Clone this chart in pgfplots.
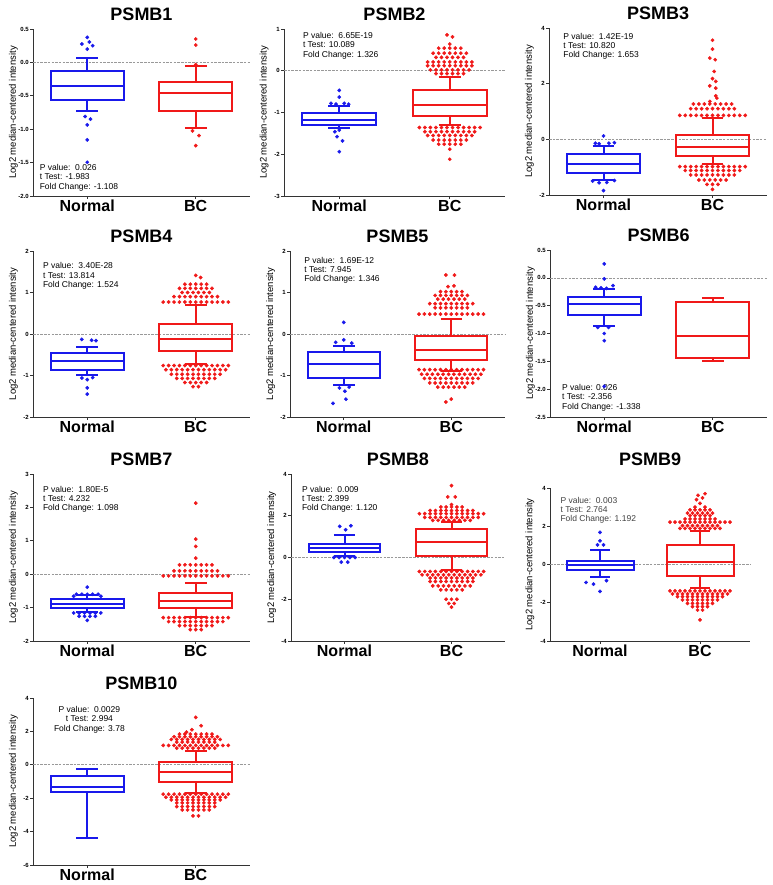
\documentclass[border=0pt]{standalone}
\usepackage{fontspec}
\setmainfont{Liberation Sans}
\usepackage{pgfplots}
\pgfplotsset{compat=1.18}
\usepgfplotslibrary{statistics}
\definecolor{bblue}{RGB}{25,25,235}
\definecolor{rred}{RGB}{240,25,25}
\newcommand{\stat}{\fontsize{8.5}{9.2}\selectfont}
\pgfplotsset{
 psmb/.style={
  scale only axis, anchor=south west, clip=false,
  boxplot/draw direction=y,
  xmin=0.5, xmax=2.5, xtick={1,2}, xticklabels={Normal,BC},
  axis lines=left, axis line style={-, black!80, line width=0.8pt},
  tick align=outside, major tick length=3pt,
  x tick style={black!80, line width=0.8pt},
  y tick style={black!80, line width=0.6pt},
  x tick label style={font=\fontsize{16}{16}\selectfont\bfseries, inner sep=1pt},
  y tick label style={font=\fontsize{6}{6}\selectfont\bfseries, inner sep=1pt},
  /pgf/number format/assume math mode=true,
  ylabel={Log2 median-centered intensity},
  ylabel style={font=\fontsize{9.5}{9.5}\selectfont, at={(axis description cs:-0.09,0.5)}, anchor=center},
  title style={font=\fontsize{18}{18}\selectfont\bfseries, at={(axis description cs:0.5,1)}, anchor=center, yshift=9pt},
 },
 zero/.style={black!40, dash pattern=on 2.5pt off 1.2pt, line width=0.6pt},
 outn/.style={only marks, mark=*, mark size=1.7pt, bblue},
 outb/.style={only marks, mark=*, mark size=1.7pt, rred},
}
\begin{document}
\begin{tikzpicture}
\path[use as bounding box] (0,0) rectangle (772pt,885pt);

% ---------------- PSMB1
\begin{axis}[psmb, at={(33pt,689pt)}, width=217pt, height=167pt, title={PSMB1},
  ymin=-2, ymax=0.5, ytick={-2,-1.5,-1,-0.5,0,0.5}, yticklabels={-2.0,-1.5,-1.0,-0.5,0.0,0.5}]
\addplot[zero] coordinates {(0.5,0)(2.5,0)};
\addplot[bblue, line width=2pt, boxplot prepared={draw position=1, box extend=0.67, whisker extend=0.2, median=-0.35, upper quartile=-0.125, lower quartile=-0.56, upper whisker=0.065, lower whisker=-0.73}] coordinates {};
\addplot[rred, line width=2pt, boxplot prepared={draw position=2, box extend=0.67, whisker extend=0.2, median=-0.46, upper quartile=-0.295, lower quartile=-0.725, upper whisker=-0.06, lower whisker=-0.975}] coordinates {};
\addplot[outn] coordinates {(1,.375)(.95,.275)(1.02,.305)(1.05,.25)(1,.2)(.98,-.81)(1.03,-.85)(1,-.935)(1,-1.16)(1,-1.495)};
\addplot[outb] coordinates {(2,.35)(2,.26)(2,-.035)(1.97,-1.025)(2.03,-1.095)(2,-1.245)};
\node[anchor=south west, align=left, font=\stat] at (rel axis cs:0.015,0.01) {P value:\ \ 0.026\\t Test: -1.983\\Fold Change: -1.108};
\end{axis}

% ---------------- PSMB2
\begin{axis}[psmb, at={(284pt,689pt)}, width=221pt, height=167pt, title={PSMB2},
  ymin=-3, ymax=1, ytick={-3,-2,-1,0,1}]
\addplot[zero] coordinates {(0.5,0)(2.5,0)};
\addplot[bblue, line width=2pt, boxplot prepared={draw position=1, box extend=0.67, whisker extend=0.2, median=-1.19, upper quartile=-1.02, lower quartile=-1.31, upper whisker=-0.84, lower whisker=-1.38}] coordinates {};
\addplot[rred, line width=2pt, boxplot prepared={draw position=2, box extend=0.67, whisker extend=0.2, median=-0.82, upper quartile=-0.47, lower quartile=-1.08, upper whisker=-0.15, lower whisker=-1.3}] coordinates {};
\addplot[outn] coordinates {(1,-.47)(1,-.63)(.925,-.78)(.97,-.8)(1.045,-.78)(1.085,-.8)(.96,-1.46)(1,-1.42)(.98,-1.58)(1.03,-1.68)(1,-1.94)};
\addplot[outb] coordinates {(1.975,.86)(2.025,.81)(2,.64)
(1.9,.54)(1.95,.54)(2,.54)(2.05,.54)(2.1,.54)
(1.85,.42)(1.9,.42)(1.95,.42)(2,.42)(2.05,.42)(2.1,.42)(2.15,.42)
(1.875,.32)(1.925,.32)(1.975,.32)(2.025,.32)(2.075,.32)(2.125,.32)
(1.8,.21)(1.85,.21)(1.9,.21)(1.95,.21)(2,.21)(2.05,.21)(2.1,.21)(2.15,.21)(2.2,.21)
(1.8,.12)(1.85,.12)(1.9,.12)(1.95,.12)(2,.12)(2.05,.12)(2.1,.12)(2.15,.12)(2.2,.12)
(1.825,.02)(1.875,.02)(1.925,.02)(1.975,.02)(2.025,.02)(2.075,.02)(2.125,.02)(2.175,.02)
(1.875,-.07)(1.925,-.07)(1.975,-.07)(2.025,-.07)(2.075,-.07)(2.125,-.07)
(1.725,-1.36)(1.775,-1.36)(1.825,-1.36)(1.875,-1.36)(1.925,-1.36)(1.975,-1.36)(2.025,-1.36)(2.075,-1.36)(2.125,-1.36)(2.175,-1.36)(2.225,-1.36)(2.275,-1.36)
(1.775,-1.46)(1.825,-1.46)(1.875,-1.46)(1.925,-1.46)(1.975,-1.46)(2.025,-1.46)(2.075,-1.46)(2.125,-1.46)(2.175,-1.46)(2.225,-1.46)
(1.8,-1.55)(1.85,-1.55)(1.9,-1.55)(1.95,-1.55)(2,-1.55)(2.05,-1.55)(2.1,-1.55)(2.15,-1.55)(2.2,-1.55)
(1.85,-1.66)(1.9,-1.66)(1.95,-1.66)(2,-1.66)(2.05,-1.66)(2.1,-1.66)(2.15,-1.66)
(1.9,-1.76)(1.95,-1.76)(2,-1.76)(2.05,-1.76)(2.1,-1.76)
(2,-1.88)(2,-2.12)};
\node[anchor=north west, align=left, font=\stat] at (rel axis cs:0.07,1.0) {P value:\ \ 6.65E-19\\t Test: 10.089\\Fold Change: 1.326};
\end{axis}

% ---------------- PSMB3
\begin{axis}[psmb, at={(549pt,690pt)}, width=218pt, height=167pt, title={PSMB3},
  ymin=-2, ymax=4, ytick={-2,0,2,4}]
\addplot[zero] coordinates {(0.5,0)(2.5,0)};
\addplot[bblue, line width=2pt, boxplot prepared={draw position=1, box extend=0.67, whisker extend=0.2, median=-0.885, upper quartile=-0.54, lower quartile=-1.22, upper whisker=-0.225, lower whisker=-1.46}] coordinates {};
\addplot[rred, line width=2pt, boxplot prepared={draw position=2, box extend=0.67, whisker extend=0.2, median=-0.26, upper quartile=0.16, lower quartile=-0.585, upper whisker=0.76, lower whisker=-0.9}] coordinates {};
\addplot[outn] coordinates {(1,.12)(.925,-.14)(.96,-.16)(1.05,-.14)(1.1,-.12)(.9,-1.5)(.96,-1.56)(1.03,-1.55)(1.1,-1.48)(1,-1.84)};
\addplot[outb] coordinates {(2,3.56)(2,3.24)(1.975,2.92)(2.025,2.86)(2.015,2.44)(2,2.18)(2.03,2.08)(1.975,1.92)(2.03,1.84)(2.03,1.56)(2.04,1.48)(1.975,1.36)
(1.825,1.27)(1.875,1.27)(1.925,1.27)(1.975,1.27)(2.025,1.27)(2.075,1.27)(2.125,1.27)(2.175,1.27)
(1.8,1.1)(1.85,1.1)(1.9,1.1)(1.95,1.1)(2,1.1)(2.05,1.1)(2.1,1.1)(2.15,1.1)(2.2,1.1)
(1.7,.86)(1.75,.86)(1.8,.86)(1.85,.86)(1.9,.86)(1.95,.86)(2,.86)(2.05,.86)(2.1,.86)(2.15,.86)(2.2,.86)(2.25,.86)(2.3,.86)
(1.7,-.98)(1.75,-.98)(1.8,-.98)(1.85,-.98)(1.9,-.98)(1.95,-.98)(2,-.98)(2.05,-.98)(2.1,-.98)(2.15,-.98)(2.2,-.98)(2.25,-.98)(2.3,-.98)
(1.75,-1.12)(1.8,-1.12)(1.85,-1.12)(1.9,-1.12)(1.95,-1.12)(2,-1.12)(2.05,-1.12)(2.1,-1.12)(2.15,-1.12)(2.2,-1.12)(2.25,-1.12)
(1.8,-1.28)(1.85,-1.28)(1.9,-1.28)(1.95,-1.28)(2,-1.28)(2.05,-1.28)(2.1,-1.28)(2.15,-1.28)(2.2,-1.28)
(1.875,-1.46)(1.925,-1.46)(1.975,-1.46)(2.025,-1.46)(2.075,-1.46)(2.125,-1.46)
(1.95,-1.62)(2,-1.62)(2.05,-1.62)(2,-1.8)};
\node[anchor=north west, align=left, font=\stat] at (rel axis cs:0.05,0.99) {P value:\ \ 1.42E-19\\t Test: 10.820\\Fold Change: 1.653};
\end{axis}

% ---------------- PSMB4
\begin{axis}[psmb, at={(33pt,468pt)}, width=217pt, height=166pt, title={PSMB4},
  ymin=-2, ymax=2, ytick={-2,-1,0,1,2}]
\addplot[zero] coordinates {(0.5,0)(2.5,0)};
\addplot[bblue, line width=2pt, boxplot prepared={draw position=1, box extend=0.67, whisker extend=0.2, median=-0.66, upper quartile=-0.46, lower quartile=-0.86, upper whisker=-0.32, lower whisker=-1.0}] coordinates {};
\addplot[rred, line width=2pt, boxplot prepared={draw position=2, box extend=0.67, whisker extend=0.2, median=-0.12, upper quartile=0.24, lower quartile=-0.40, upper whisker=0.69, lower whisker=-0.73}] coordinates {};
\addplot[outn] coordinates {(.95,-.13)(1.04,-.15)(1.08,-.16)(.95,-1.06)(1,-1.1)(1.05,-1.05)(1,-1.3)(1,-1.45)};
\addplot[outb] coordinates {(2,1.41)(2.045,1.36)
(1.9,1.2)(1.95,1.2)(2,1.2)(2.05,1.2)(2.1,1.2)
(1.85,1.1)(1.9,1.1)(1.95,1.1)(2,1.1)(2.05,1.1)(2.1,1.1)(2.15,1.1)
(1.875,1)(1.925,1)(1.975,1)(2.025,1)(2.075,1)(2.125,1)
(1.8,.9)(1.85,.9)(1.9,.9)(1.95,.9)(2,.9)(2.05,.9)(2.1,.9)(2.15,.9)(2.2,.9)
(1.7,.77)(1.75,.77)(1.8,.77)(1.85,.77)(1.9,.77)(1.95,.77)(2,.77)(2.05,.77)(2.1,.77)(2.15,.77)(2.2,.77)(2.25,.77)(2.3,.77)
(1.7,-.76)(1.75,-.76)(1.8,-.76)(1.85,-.76)(1.9,-.76)(1.95,-.76)(2,-.76)(2.05,-.76)(2.1,-.76)(2.15,-.76)(2.2,-.76)(2.25,-.76)(2.3,-.76)
(1.725,-.86)(1.775,-.86)(1.825,-.86)(1.875,-.86)(1.925,-.86)(1.975,-.86)(2.025,-.86)(2.075,-.86)(2.125,-.86)(2.175,-.86)(2.225,-.86)(2.275,-.86)
(1.775,-.97)(1.825,-.97)(1.875,-.97)(1.925,-.97)(1.975,-.97)(2.025,-.97)(2.075,-.97)(2.125,-.97)(2.175,-.97)(2.225,-.97)
(1.825,-1.07)(1.875,-1.07)(1.925,-1.07)(1.975,-1.07)(2.025,-1.07)(2.075,-1.07)(2.125,-1.07)(2.175,-1.07)
(1.9,-1.17)(1.95,-1.17)(2,-1.17)(2.05,-1.17)(2.1,-1.17)
(1.975,-1.27)(2.025,-1.27)};
\node[anchor=north west, align=left, font=\stat] at (rel axis cs:0.03,0.95) {P value:\ \ 3.40E-28\\t Test: 13.814\\Fold Change: 1.524};
\end{axis}

% ---------------- PSMB5
\begin{axis}[psmb, at={(290pt,468pt)}, width=215pt, height=166pt, title={PSMB5},
  ymin=-2, ymax=2, ytick={-2,-1,0,1,2}]
\addplot[zero] coordinates {(0.5,0)(2.5,0)};
\addplot[bblue, line width=2pt, boxplot prepared={draw position=1, box extend=0.67, whisker extend=0.2, median=-0.72, upper quartile=-0.44, lower quartile=-1.05, upper whisker=-0.28, lower whisker=-1.24}] coordinates {};
\addplot[rred, line width=2pt, boxplot prepared={draw position=2, box extend=0.67, whisker extend=0.2, median=-0.38, upper quartile=-0.04, lower quartile=-0.62, upper whisker=0.36, lower whisker=-0.9}] coordinates {};
\addplot[outn] coordinates {(1,.28)(1,-.14)(.925,-.2)(1.075,-.22)(.96,-1.3)(1.05,-1.28)(1.01,-1.38)(1.02,-1.57)(.9,-1.67)};
\addplot[outb] coordinates {(1.95,1.42)(2.03,1.42)(1.97,1.14)(2.025,1.16)
(1.9,1.02)(1.95,1.02)(2,1.02)(2.05,1.02)(2.1,1.02)
(1.85,.93)(1.9,.93)(1.95,.93)(2,.93)(2.05,.93)(2.1,.93)(2.15,.93)
(1.875,.84)(1.925,.84)(1.975,.84)(2.025,.84)(2.075,.84)(2.125,.84)
(1.8,.73)(1.85,.73)(1.9,.73)(1.95,.73)(2,.73)(2.05,.73)(2.1,.73)(2.15,.73)(2.2,.73)
(1.85,.63)(1.9,.63)(1.95,.63)(2,.63)(2.05,.63)(2.1,.63)(2.15,.63)
(1.7,.48)(1.75,.48)(1.8,.48)(1.85,.48)(1.9,.48)(1.95,.48)(2,.48)(2.05,.48)(2.1,.48)(2.15,.48)(2.2,.48)(2.25,.48)(2.3,.48)
(1.7,-.86)(1.75,-.86)(1.8,-.86)(1.85,-.86)(1.9,-.86)(1.95,-.86)(2,-.86)(2.05,-.86)(2.1,-.86)(2.15,-.86)(2.2,-.86)(2.25,-.86)(2.3,-.86)
(1.725,-.97)(1.775,-.97)(1.825,-.97)(1.875,-.97)(1.925,-.97)(1.975,-.97)(2.025,-.97)(2.075,-.97)(2.125,-.97)(2.175,-.97)(2.225,-.97)(2.275,-.97)
(1.75,-1.07)(1.8,-1.07)(1.85,-1.07)(1.9,-1.07)(1.95,-1.07)(2,-1.07)(2.05,-1.07)(2.1,-1.07)(2.15,-1.07)(2.2,-1.07)(2.25,-1.07)
(1.8,-1.18)(1.85,-1.18)(1.9,-1.18)(1.95,-1.18)(2,-1.18)(2.05,-1.18)(2.1,-1.18)(2.15,-1.18)(2.2,-1.18)
(1.875,-1.28)(1.925,-1.28)(1.975,-1.28)(2.025,-1.28)(2.075,-1.28)(2.125,-1.28)
(2,-1.57)(1.95,-1.64)};
\node[anchor=north west, align=left, font=\stat] at (rel axis cs:0.05,0.985) {P value:\ \ 1.69E-12\\t Test: 7.945\\Fold Change: 1.346};
\end{axis}

% ---------------- PSMB6
\begin{axis}[psmb, at={(550pt,468pt)}, width=217pt, height=167pt, title={PSMB6},
  ymin=-2.5, ymax=0.5, ytick={-2.5,-2,-1.5,-1,-0.5,0,0.5}, yticklabels={-2.5,-2.0,-1.5,-1.0,-0.5,0.0,0.5}]
\addplot[zero] coordinates {(0.5,0)(2.5,0)};
\addplot[bblue, line width=2pt, boxplot prepared={draw position=1, box extend=0.67, whisker extend=0.2, median=-0.47, upper quartile=-0.35, lower quartile=-0.665, upper whisker=-0.2, lower whisker=-0.86}] coordinates {};
\addplot[rred, line width=2pt, boxplot prepared={draw position=2, box extend=0.67, whisker extend=0.2, median=-1.04, upper quartile=-0.43, lower quartile=-1.44, upper whisker=-0.37, lower whisker=-1.5}] coordinates {};
\addplot[outn] coordinates {(1,.25)(1,-.02)(.92,-.17)(.97,-.18)(1.02,-.19)(1.08,-.14)(.94,-.89)(1.04,-.89)(1,-1.0)(1,-1.13)(1,-1.95)};
\node[anchor=south west, align=left, font=\stat] at (rel axis cs:0.04,0.015) {P value: 0.026\\t Test: -2.356\\Fold Change: -1.338};
\end{axis}

% ---------------- PSMB7
\begin{axis}[psmb, at={(33pt,244pt)}, width=217pt, height=167pt, title={PSMB7},
  ymin=-2, ymax=3, ytick={-2,-1,0,1,2,3}]
\addplot[zero] coordinates {(0.5,0)(2.5,0)};
\addplot[bblue, line width=2pt, boxplot prepared={draw position=1, box extend=0.67, whisker extend=0.2, median=-0.89, upper quartile=-0.75, lower quartile=-1.02, upper whisker=-0.62, lower whisker=-1.12}] coordinates {};
\addplot[rred, line width=2pt, boxplot prepared={draw position=2, box extend=0.67, whisker extend=0.2, median=-0.79, upper quartile=-0.55, lower quartile=-1.02, upper whisker=-0.25, lower whisker=-1.27}] coordinates {};
\addplot[outn] coordinates {(1,-.39)(.9,-.6)(.95,-.6)(1,-.6)(1.05,-.6)(1.1,-.6)(.875,-.66)(1.125,-.66)
(.875,-1.16)(.925,-1.16)(.975,-1.16)(1.025,-1.16)(1.075,-1.16)(1.125,-1.16)
(.925,-1.26)(.975,-1.26)(1.025,-1.26)(1.075,-1.26)(1,-1.38)};
\addplot[outb] coordinates {(2,2.13)(2,1.05)(2,.83)(2,.48)
(1.85,.28)(1.9,.28)(1.95,.28)(2,.28)(2.05,.28)(2.1,.28)(2.15,.28)
(1.8,.1)(1.85,.1)(1.9,.1)(1.95,.1)(2,.1)(2.05,.1)(2.1,.1)(2.15,.1)(2.2,.1)
(1.7,-.05)(1.75,-.05)(1.8,-.05)(1.85,-.05)(1.9,-.05)(1.95,-.05)(2,-.05)(2.05,-.05)(2.1,-.05)(2.15,-.05)(2.2,-.05)(2.25,-.05)(2.3,-.05)
(1.7,-1.3)(1.75,-1.3)(1.8,-1.3)(1.85,-1.3)(1.9,-1.3)(1.95,-1.3)(2,-1.3)(2.05,-1.3)(2.1,-1.3)(2.15,-1.3)(2.2,-1.3)(2.25,-1.3)(2.3,-1.3)
(1.75,-1.42)(1.8,-1.42)(1.85,-1.42)(1.9,-1.42)(1.95,-1.42)(2,-1.42)(2.05,-1.42)(2.1,-1.42)(2.15,-1.42)(2.2,-1.42)(2.25,-1.42)
(1.85,-1.54)(1.9,-1.54)(1.95,-1.54)(2,-1.54)(2.05,-1.54)(2.1,-1.54)(2.15,-1.54)
(1.95,-1.66)(2,-1.66)(2.05,-1.66)};
\node[anchor=north west, align=left, font=\stat] at (rel axis cs:0.03,0.95) {P value:\ \ 1.80E-5\\t Test: 4.232\\Fold Change: 1.098};
\end{axis}

% ---------------- PSMB8
\begin{axis}[psmb, at={(291pt,244pt)}, width=214pt, height=167pt, title={PSMB8},
  ymin=-4, ymax=4, ytick={-4,-2,0,2,4}]
\addplot[zero] coordinates {(0.5,0)(2.5,0)};
\addplot[bblue, line width=2pt, boxplot prepared={draw position=1, box extend=0.67, whisker extend=0.2, median=0.45, upper quartile=0.64, lower quartile=0.24, upper whisker=1.09, lower whisker=0.08}] coordinates {};
\addplot[rred, line width=2pt, boxplot prepared={draw position=2, box extend=0.67, whisker extend=0.2, median=0.74, upper quartile=1.36, lower quartile=0.08, upper whisker=1.68, lower whisker=-0.62}] coordinates {};
\addplot[outn] coordinates {(.955,1.49)(1.06,1.52)(1.01,1.33)(.9,0)(.95,0)(1,0)(1.05,0)(1.1,0)(.97,-.22)(1.03,-.22)};
\addplot[outb] coordinates {(2,3.44)(1.965,2.9)(2.035,2.9)(2,2.53)
(1.9,2.42)(1.95,2.42)(2,2.42)(2.05,2.42)(2.1,2.42)
(1.8,2.25)(1.85,2.25)(1.9,2.25)(1.95,2.25)(2,2.25)(2.05,2.25)(2.1,2.25)(2.15,2.25)(2.2,2.25)
(1.7,2.1)(1.75,2.1)(1.8,2.1)(1.85,2.1)(1.9,2.1)(1.95,2.1)(2,2.1)(2.05,2.1)(2.1,2.1)(2.15,2.1)(2.2,2.1)(2.25,2.1)(2.3,2.1)
(1.75,1.92)(1.8,1.92)(1.85,1.92)(1.9,1.92)(1.95,1.92)(2,1.92)(2.05,1.92)(2.1,1.92)(2.15,1.92)(2.2,1.92)(2.25,1.92)
(1.825,1.78)(1.875,1.78)(1.925,1.78)(1.975,1.78)(2.025,1.78)(2.075,1.78)(2.125,1.78)(2.175,1.78)
(1.7,-.67)(1.75,-.67)(1.8,-.67)(1.85,-.67)(1.9,-.67)(1.95,-.67)(2,-.67)(2.05,-.67)(2.1,-.67)(2.15,-.67)(2.2,-.67)(2.25,-.67)(2.3,-.67)
(1.725,-.83)(1.775,-.83)(1.825,-.83)(1.875,-.83)(1.925,-.83)(1.975,-.83)(2.025,-.83)(2.075,-.83)(2.125,-.83)(2.175,-.83)(2.225,-.83)(2.275,-.83)
(1.8,-.98)(1.85,-.98)(1.9,-.98)(1.95,-.98)(2,-.98)(2.05,-.98)(2.1,-.98)(2.15,-.98)(2.2,-.98)
(1.8,-1.15)(1.85,-1.15)(1.9,-1.15)(1.95,-1.15)(2,-1.15)(2.05,-1.15)(2.1,-1.15)(2.15,-1.15)(2.2,-1.15)
(1.825,-1.36)(1.875,-1.36)(1.925,-1.36)(1.975,-1.36)(2.025,-1.36)(2.075,-1.36)(2.125,-1.36)(2.175,-1.36)
(1.9,-1.55)(1.95,-1.55)(2,-1.55)(2.05,-1.55)(2.1,-1.55)
(1.95,-2.0)(2,-2.0)(2.05,-2.0)(1.975,-2.2)(2.025,-2.2)(2,-2.38)};
\node[anchor=north west, align=left, font=\stat] at (rel axis cs:0.035,0.95) {P value:\ \ 0.009\\t Test: 2.399\\Fold Change: 1.120};
\end{axis}

% ---------------- PSMB9
\begin{axis}[psmb, at={(550pt,244pt)}, width=200pt, height=153pt, title={PSMB9},
  title style={yshift=14pt}, ylabel style={at={(axis description cs:-0.1,0.5)}},
  ymin=-4, ymax=4, ytick={-4,-2,0,2,4}]
\addplot[zero] coordinates {(0.5,0)(2.5,0)};
\addplot[bblue, line width=2pt, boxplot prepared={draw position=1, box extend=0.67, whisker extend=0.2, median=-0.02, upper quartile=0.19, lower quartile=-0.28, upper whisker=0.77, lower whisker=-0.63}] coordinates {};
\addplot[rred, line width=2pt, boxplot prepared={draw position=2, box extend=0.67, whisker extend=0.2, median=0.12, upper quartile=1.0, lower quartile=-0.58, upper whisker=1.76, lower whisker=-1.24}] coordinates {};
\addplot[outn] coordinates {(1,1.68)(1,1.24)(.975,1.03)(1.035,1.03)(.86,-.94)(.935,-1.03)(1.065,-.84)(1,-1.41)};
\addplot[outb] coordinates {(2.05,3.7)(1.98,3.62)(1.965,3.39)(2.025,3.48)(2,3.2)(1.95,3.0)(2.05,3.0)
(1.9,2.86)(1.95,2.86)(2,2.86)(2.05,2.86)(2.1,2.86)
(1.875,2.69)(1.925,2.69)(1.975,2.69)(2.025,2.69)(2.075,2.69)(2.125,2.69)
(1.9,2.55)(1.95,2.55)(2,2.55)(2.05,2.55)(2.1,2.55)
(1.85,2.38)(1.9,2.38)(1.95,2.38)(2,2.38)(2.05,2.38)(2.1,2.38)(2.15,2.38)
(1.7,2.22)(1.75,2.22)(1.8,2.22)(1.85,2.22)(1.9,2.22)(1.95,2.22)(2,2.22)(2.05,2.22)(2.1,2.22)(2.15,2.22)(2.2,2.22)(2.25,2.22)(2.3,2.22)
(1.825,2.03)(1.875,2.03)(1.925,2.03)(1.975,2.03)(2.025,2.03)(2.075,2.03)(2.125,2.03)(2.175,2.03)
(1.8,1.89)(1.85,1.89)(1.9,1.89)(1.95,1.89)(2,1.89)(2.05,1.89)(2.1,1.89)(2.15,1.89)(2.2,1.89)
(1.7,-1.38)(1.75,-1.38)(1.8,-1.38)(1.85,-1.38)(1.9,-1.38)(1.95,-1.38)(2,-1.38)(2.05,-1.38)(2.1,-1.38)(2.15,-1.38)(2.2,-1.38)(2.25,-1.38)(2.3,-1.38)
(1.725,-1.54)(1.775,-1.54)(1.825,-1.54)(1.875,-1.54)(1.925,-1.54)(1.975,-1.54)(2.025,-1.54)(2.075,-1.54)(2.125,-1.54)(2.175,-1.54)(2.225,-1.54)(2.275,-1.54)
(1.775,-1.68)(1.825,-1.68)(1.875,-1.68)(1.925,-1.68)(1.975,-1.68)(2.025,-1.68)(2.075,-1.68)(2.125,-1.68)(2.175,-1.68)(2.225,-1.68)
(1.825,-1.85)(1.875,-1.85)(1.925,-1.85)(1.975,-1.85)(2.025,-1.85)(2.075,-1.85)(2.125,-1.85)(2.175,-1.85)
(1.875,-2.03)(1.925,-2.03)(1.975,-2.03)(2.025,-2.03)(2.075,-2.03)(2.125,-2.03)
(1.925,-2.2)(1.975,-2.2)(2.025,-2.2)(2.075,-2.2)
(1.975,-2.38)(2.025,-2.38)(2,-2.9)};
\node[anchor=north west, align=left, font=\stat, black!75] at (rel axis cs:0.035,0.965) {P value:\ \ 0.003\\t Test: 2.764\\Fold Change: 1.192};
\end{axis}

% ---------------- PSMB10
\begin{axis}[psmb, at={(33pt,20pt)}, width=217pt, height=167pt, title={PSMB10},
  ymin=-6, ymax=4, ytick={-6,-4,-2,0,2,4}]
\addplot[zero] coordinates {(0.5,0)(2.5,0)};
\addplot[bblue, line width=2pt, boxplot prepared={draw position=1, box extend=0.67, whisker extend=0.2, median=-1.34, upper quartile=-0.66, lower quartile=-1.64, upper whisker=-0.26, lower whisker=-4.4}] coordinates {};
\addplot[rred, line width=2pt, boxplot prepared={draw position=2, box extend=0.67, whisker extend=0.2, median=-0.44, upper quartile=0.16, lower quartile=-1.06, upper whisker=0.84, lower whisker=-1.66}] coordinates {};
\addplot[outb] coordinates {(2,2.84)(2.05,2.34)(1.965,2.1)(1.915,1.96)
(1.85,1.84)(1.9,1.84)(1.95,1.84)(2,1.84)(2.05,1.84)(2.1,1.84)(2.15,1.84)
(1.8,1.68)(1.85,1.68)(1.9,1.68)(1.95,1.68)(2,1.68)(2.05,1.68)(2.1,1.68)(2.15,1.68)(2.2,1.68)
(1.775,1.52)(1.825,1.52)(1.875,1.52)(1.925,1.52)(1.975,1.52)(2.025,1.52)(2.075,1.52)(2.125,1.52)(2.175,1.52)(2.225,1.52)
(1.825,1.36)(1.875,1.36)(1.925,1.36)(1.975,1.36)(2.025,1.36)(2.075,1.36)(2.125,1.36)(2.175,1.36)
(1.7,1.16)(1.75,1.16)(1.8,1.16)(1.85,1.16)(1.9,1.16)(1.95,1.16)(2,1.16)(2.05,1.16)(2.1,1.16)(2.15,1.16)(2.2,1.16)(2.25,1.16)(2.3,1.16)
(1.825,1.0)(1.875,1.0)(1.925,1.0)(1.975,1.0)(2.025,1.0)(2.075,1.0)(2.125,1.0)(2.175,1.0)
(1.7,-1.76)(1.75,-1.76)(1.8,-1.76)(1.85,-1.76)(1.9,-1.76)(1.95,-1.76)(2,-1.76)(2.05,-1.76)(2.1,-1.76)(2.15,-1.76)(2.2,-1.76)(2.25,-1.76)(2.3,-1.76)
(1.725,-1.94)(1.775,-1.94)(1.825,-1.94)(1.875,-1.94)(1.925,-1.94)(1.975,-1.94)(2.025,-1.94)(2.075,-1.94)(2.125,-1.94)(2.175,-1.94)(2.225,-1.94)(2.275,-1.94)
(1.775,-2.1)(1.825,-2.1)(1.875,-2.1)(1.925,-2.1)(1.975,-2.1)(2.025,-2.1)(2.075,-2.1)(2.125,-2.1)(2.175,-2.1)(2.225,-2.1)
(1.825,-2.28)(1.875,-2.28)(1.925,-2.28)(1.975,-2.28)(2.025,-2.28)(2.075,-2.28)(2.125,-2.28)(2.175,-2.28)
(1.825,-2.5)(1.875,-2.5)(1.925,-2.5)(1.975,-2.5)(2.025,-2.5)(2.075,-2.5)(2.125,-2.5)(2.175,-2.5)
(1.875,-2.7)(1.925,-2.7)(1.975,-2.7)(2.025,-2.7)(2.075,-2.7)(2.125,-2.7)
(1.975,-3.06)(2.025,-3.06)};
\node[anchor=north, align=center, font=\stat] at (rel axis cs:0.26,0.97) {P value:\ \ 0.0029\\t Test: 2.994\\Fold Change: 3.78};
\end{axis}
\end{tikzpicture}
\end{document}
